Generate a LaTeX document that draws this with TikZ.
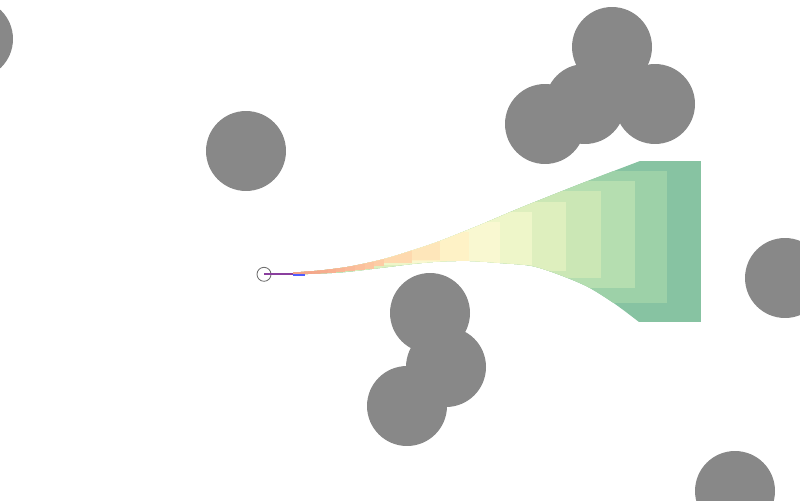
\documentclass[tikz,border=0pt]{standalone}
\definecolor{obstacle}{HTML}{888888}
\definecolor{markgray}{HTML}{707070}
\definecolor{pathpurple}{HTML}{8A3F9E}
\definecolor{pathblue}{HTML}{4F5CFF}
% stage colours, earliest first
\definecolor{stage1}{HTML}{F3A287}
\definecolor{stage2}{HTML}{F4A589}
\definecolor{stage3}{HTML}{F5A88B}
\definecolor{stage4}{HTML}{F6AC8E}
\definecolor{stage5}{HTML}{F8B091}
\definecolor{stage6}{HTML}{F9B594}
\definecolor{stage7}{HTML}{FABA98}
\definecolor{stage8}{HTML}{FBC09C}
\definecolor{stage9}{HTML}{FCC6A0}
\definecolor{stage10}{HTML}{FDCCA5}
\definecolor{stage11}{HTML}{FED9AE}
\definecolor{stage12}{HTML}{FEE6BA}
\definecolor{stage13}{HTML}{FEF2C6}
\definecolor{stage14}{HTML}{F9F8D1}
\definecolor{stage15}{HTML}{EEF6C9}
\definecolor{stage16}{HTML}{DEEFBE}
\definecolor{stage17}{HTML}{CBE7B5}
\definecolor{stage18}{HTML}{B5DEB0}
\definecolor{stage19}{HTML}{9DD1A8}
\definecolor{stage20}{HTML}{87C3A2}
\begin{document}
\begin{tikzpicture}[x=0.02cm, y=-0.02cm]
    % Styles
    \tikzstyle{obstacle disc}=[fill=obstacle, draw=none]
    \tikzstyle{start marker}=[circle, draw=markgray, line width=0.5pt, minimum size=0.28cm, inner sep=0pt]
    \tikzstyle{path line}=[line width=1.1pt]

    \useasboundingbox (0,0) rectangle (800,500);
    \clip (0,0) rectangle (800,500);

    % --- Swept stages: latest first, earlier ones on top ---
    \begin{scope}
        \clip plot[smooth] coordinates {(293,272.5) (320,270.5) (350,266.5) (384,259) (412,250.5) (440,241) (480,225) (520,208) (580,184) (640,161)}
            -- (701,161) -- (701,322)
            -- plot[smooth] coordinates {(639,322) (615,304) (588,287) (560,275) (532,266) (500,263) (470,261) (440,261.5) (412,264) (384,267.5) (340,272.5) (293,274.5)}
            -- cycle;
        \foreach \xr/\yt/\yb/\col in {701/161/322/stage20, 667/171/303/stage19, 635/181/288/stage18,
            601/191/278/stage17, 566/202/271/stage16, 532/212/265/stage15, 500/222/263/stage14,
            469/232/261/stage13, 440/241/260/stage12, 412/250/263/stage11, 384/258/266/stage10,
            374/262/268.5/stage9, 365/264/270/stage8, 355/266/271/stage7, 345/267.5/272/stage6,
            336/269/273/stage5, 328/270/273.5/stage4, 320/271/274/stage3, 312/271.5/274.5/stage2,
            305/272/275/stage1}
            \fill[fill=\col] (290,\yt) rectangle (\xr,\yb);
    \end{scope}

    % --- Start and travelled path ---
    \node[start marker] (start) at (264,274.3) {};
    \coordinate (turn) at (293,274.3);
    \coordinate (tip) at (305,275.3);
    \draw[path line, pathpurple] (start.center) -- (turn);
    \draw[path line, pathblue] (turn |- tip) -- (tip);

    % --- Obstacles ---
    \foreach \cx/\cy in {-27/39, 246/151, 612/47, 585/104, 655/104, 545/124,
        785/278, 430/313, 446/367, 407/406, 735/491}
        \fill[obstacle disc] (\cx,\cy) circle[radius=0.8cm];

\end{tikzpicture}
\end{document}
